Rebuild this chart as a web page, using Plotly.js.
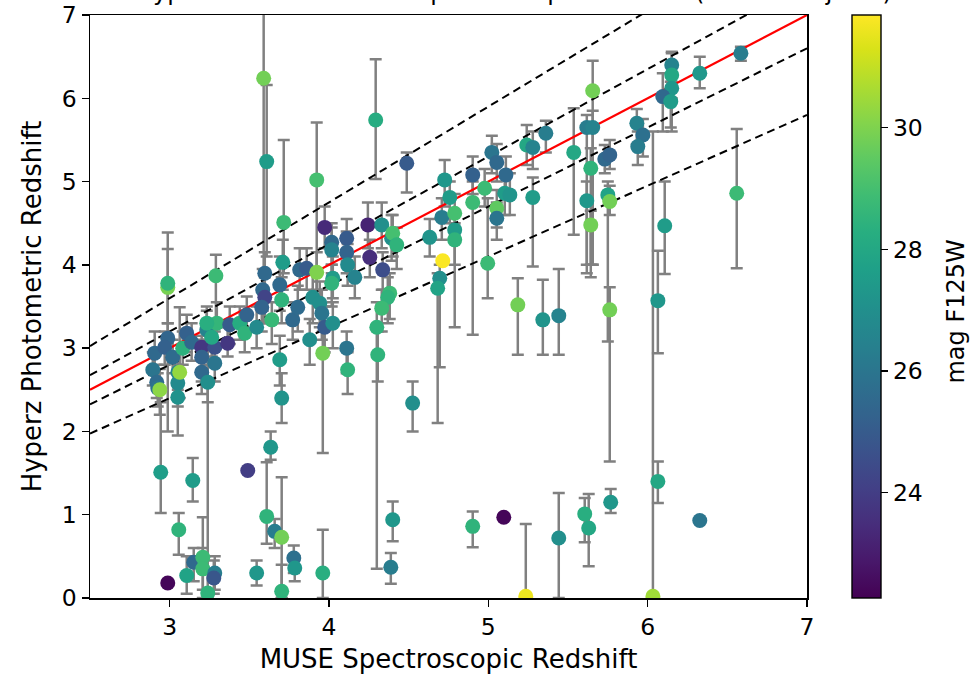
<!DOCTYPE html>
<html>
<head>
<meta charset="utf-8">
<script src="https://cdn.plot.ly/plotly-3.0.1.min.js"></script>
<style>html,body{margin:0;padding:0;background:#fff;}#chart{width:971px;height:681px;}</style>
</head>
<body>
<div id="chart"></div>
<script>
// MUSE spectroscopic redshift
const zSpec = [2.906,2.894,2.919,2.925,2.938,2.944,2.988,2.988,2.988,2.969,3.019,3.051,3.051,3.051,3.063,3.107,3.082,3.138,3.201,3.201,3.201,3.233,3.239,3.283,3.283,3.296,3.233,3.264,3.364,3.377,3.44,3.471,3.484,3.546,3.584,3.597,3.597,3.578,3.641,3.691,3.703,3.71,3.716,3.691,3.703,3.772,3.804,3.816,3.86,3.879,3.898,3.923,3.942,3.955,3.973,3.961,3.973,4.017,4.017,4.024,4.017,4.024,4.111,4.111,4.117,4.111,4.117,4.162,4.244,4.256,4.331,4.337,4.393,4.4,4.425,4.381,4.369,4.331,4.3,4.306,4.525,4.632,4.708,4.789,4.789,4.789,4.714,4.695,4.682,4.726,4.758,4.902,4.977,5.053,5.053,5.103,5.135,5.279,4.996,5.185,5.342,5.442,4.902,5.022,5.053,5.11,5.241,5.279,5.361,4.488,4.293,3.923,3.59,3.609,5.618,5.75,5.762,5.643,6.107,6.559,5.762,6.064,5.442,5.605,5.63,5.768,6.064,6.327,6.033,6.585,6.327,6.151,6.151,6.151,6.095,6.145,5.932,5.97,5.938,5.655,5.618,5.655,5.536,5.643,5.731,5.762,5.235,5.097,4.902,4.4,4.388,3.961,3.145,3.49,3.057,2.988,3.107,3.151,3.208,3.208,3.283,3.277,3.239,3.634,3.609,3.659,3.703,3.703,3.779,3.785,3.546,3.29];
// Hyperz photometric redshift
const zPhot = [2.94,2.74,2.59,2.52,2.5,1.51,3.73,3.78,3.12,3.01,2.89,2.71,2.58,2.41,2.71,3.18,3.0,3.07,3.01,2.89,2.71,3.22,2.59,2.82,3.01,3.3,3.3,3.13,3.06,3.28,3.3,3.18,3.4,3.25,3.7,3.61,3.9,3.49,3.34,3.76,3.58,4.03,4.51,2.86,2.4,3.34,3.49,3.94,3.96,3.1,3.61,3.91,3.54,3.42,3.25,2.94,4.45,4.27,4.18,3.84,3.78,3.3,4.32,4.15,4.0,3.0,2.74,3.85,4.48,4.09,4.48,3.94,4.32,4.38,4.24,3.66,3.61,3.48,3.25,2.92,2.34,4.33,4.57,4.62,4.42,4.3,4.05,3.84,3.72,5.02,4.81,4.75,4.92,4.68,4.56,4.86,4.84,4.81,4.02,3.52,3.34,3.39,5.08,5.35,5.23,5.08,5.44,5.41,5.58,5.22,5.74,5.02,6.24,5.24,4.77,4.84,4.76,4.48,4.47,4.86,3.46,3.57,0.72,1.01,0.84,1.15,1.4,0.93,0.02,6.54,6.3,6.4,6.28,6.12,6.02,5.96,5.7,5.56,5.42,6.09,5.65,5.65,5.35,5.16,5.27,5.32,0.02,0.97,0.86,0.94,0.37,0.3,1.41,1.53,0.82,0.18,0.27,0.43,0.49,0.35,0.3,0.24,0.06,1.81,0.98,0.8,0.73,0.08,0.48,0.36,0.3,3.87];
// lower and upper bounds of the photometric redshift
const zLow = [2.72,2.55,2.4,2.3,2.2,1.02,2.0,3.3,2.95,2.8,2.7,2.5,2.3,1.95,2.4,2.95,2.8,2.85,2.85,2.6,2.45,3.0,2.35,2.6,2.8,3.05,3.1,2.9,2.9,3.05,3.1,2.95,3.2,3.0,3.45,3.3,3.6,3.2,3.05,3.45,3.3,3.7,3.9,2.55,2.1,3.1,3.2,3.7,3.7,2.8,3.3,3.65,3.25,3.1,2.95,1.74,4.2,4.0,3.9,3.6,3.5,3.0,4.05,3.9,3.75,2.7,2.45,3.6,4.2,3.85,4.2,3.7,4.05,4.1,3.95,3.35,3.3,3.2,0.35,2.6,2.0,4.1,4.3,4.35,4.0,3.25,4.05,2.77,2.1,4.7,4.5,3.16,4.7,4.45,4.3,4.6,4.6,3.98,3.6,2.92,2.92,2.92,4.85,5.1,5.0,4.85,5.2,5.15,5.35,4.87,5.03,3.7,3.3,4.1,4.0,3.08,4.6,3.85,3.89,3.96,1.64,2.94,0.0,0.67,0.38,1.02,1.14,0.93,0.0,6.45,6.12,6.2,6.0,5.6,5.6,5.65,5.45,5.3,5.2,4.0,3.9,4.0,4.36,4.0,5.1,5.15,0.0,0.97,0.61,0.68,0.17,0.0,1.16,1.53,0.52,0.18,0.05,0.2,0.0,0.1,0.1,0.05,0.0,1.66,0.65,0.6,0.0,0.0,0.3,0.2,0.15,3.0];
const zHigh = [3.2,2.95,2.8,2.7,2.75,2.35,4.39,4.19,3.3,3.2,3.1,2.95,2.8,2.62,3.49,3.4,3.2,3.3,3.15,3.1,2.95,3.45,2.8,3.05,3.2,3.55,3.5,3.35,3.25,3.5,3.5,3.4,3.62,3.5,3.95,3.85,4.15,3.7,3.55,4.1,3.85,4.3,5.5,3.15,2.7,3.55,3.75,4.2,4.2,3.35,3.9,4.15,3.8,3.7,3.5,3.2,4.7,4.5,4.45,4.1,4.0,3.55,4.55,4.4,4.25,3.2,2.95,4.1,4.75,4.3,4.75,4.15,4.6,4.6,4.45,3.9,3.85,3.7,3.55,3.2,2.6,4.55,4.8,4.85,4.6,4.5,4.05,4.0,3.9,5.26,5.0,5.0,5.15,4.9,4.75,5.05,5.1,5.05,4.8,3.84,3.82,3.95,5.3,5.55,5.45,5.3,5.68,5.6,5.73,5.35,6.47,5.71,7.5,6.16,5.0,5.0,4.95,4.65,5.0,5.63,3.73,4.17,1.26,1.2,1.25,1.31,1.64,0.93,5.6,6.62,6.5,6.56,6.54,6.4,6.3,6.2,5.87,5.75,5.6,6.45,5.8,5.85,5.88,5.4,5.44,5.5,0.89,0.97,1.04,1.16,0.54,0.82,1.68,1.53,1.02,0.18,0.5,0.6,0.97,0.6,0.5,0.45,3.2,2.0,1.63,0.95,1.45,0.4,0.63,0.5,0.45,4.12];
// F125W magnitude (colour)
const magF125W = [25.5,26.0,25.6,25.9,30.2,27.6,29.9,28.5,25.4,25.2,25.6,26.6,26.8,27.1,30.3,25.2,28.4,25.5,23.8,25.3,25.5,26.5,27.0,26.0,24.6,28.6,28.3,28.0,23.8,25.0,28.2,28.5,25.3,26.8,25.5,24.2,25.5,25.3,28.7,25.5,28.5,27.5,28.8,27.5,27.2,25.5,25.6,25.5,25.0,27.0,27.0,30.0,27.0,26.0,25.0,29.8,23.4,25.5,26.5,27.5,28.5,27.0,25.0,25.3,26.8,26.0,28.5,26.5,23.2,23.5,27.0,24.5,27.0,29.0,28.5,28.8,28.5,28.8,28.5,28.5,27.0,27.2,26.3,29.0,27.5,28.5,31.8,27.0,27.8,27.3,27.5,28.8,28.8,29.5,26.0,27.5,27.2,27.5,28.8,29.8,27.2,26.5,25.2,26.0,25.5,25.5,28.0,26.5,26.3,25.0,28.2,29.0,29.8,27.5,27.3,27.8,29.8,29.8,27.5,28.8,29.8,27.3,27.0,28.3,28.0,27.3,28.0,26.0,30.5,26.3,27.3,26.5,28.0,27.3,25.5,27.5,26.5,25.8,26.3,29.8,26.3,26.5,28.0,28.5,25.5,25.3,31.6,22.4,28.5,27.3,26.3,28.3,27.5,24.0,28.5,22.4,27.8,25.5,28.8,28.8,26.3,24.8,28.5,27.3,28.5,26.3,29.8,28.5,25.8,27.3,27.3,28.8];

const xAxisTicks = [3,4,5,6,7];
const yAxisTicks = [0,1,2,3,4,5,6,7];
const cbarTicks = [24,26,28,30];
const lineX = [2.5, 7];
const scatterOffsets = [0.15, 0.05, -0.05, -0.15];   // z_phot = z_spec ± k(1+z_spec)

const errMinus = zPhot.map((v,i)=>v - zLow[i]);
const errPlus = zPhot.map((v,i)=>zHigh[i] - v);

const FONT = 'DejaVu Sans';
const traces = [];
traces.push({
  type:'scatter', mode:'markers', x:zSpec, y:zPhot,
  marker:{size:15, opacity:0},
  error_y:{type:'data', symmetric:false, array:errPlus, arrayminus:errMinus, color:'#808080', thickness:2.5, width:6},
  hoverinfo:'skip', showlegend:false
});
scatterOffsets.forEach(k=>{
  traces.push({type:'scatter', mode:'lines', x:lineX, y:lineX.map(v=>v + k*(1+v)),
    line:{color:'#000', width:2, dash:'8px,5px'}, showlegend:false, hoverinfo:'skip'});
});
traces.push({type:'scatter', mode:'lines', x:lineX, y:lineX, line:{color:'#ff0000', width:2.2}, showlegend:false, hoverinfo:'skip'});
traces.push({
  type:'scatter', mode:'markers', x:zSpec, y:zPhot,
  marker:{size:15, color:magF125W, colorscale:'Viridis', cmin:22.27, cmax:31.85, line:{width:0},
    colorbar:{x:1.0628, xanchor:'left', xref:'paper', xpad:0, ypad:0, y:0, yanchor:'bottom', len:1, lenmode:'fraction', thickness:29, thicknessmode:'pixels',
      outlinewidth:1.4, outlinecolor:'#000', tickvals:cbarTicks, ticks:'outside', ticklen:7, tickwidth:1.4, tickcolor:'#000',
      tickfont:{family:FONT, size:23.5, color:'#000'}, title:{text:''}}},
  showlegend:false
});

const layout = {
  width:971, height:681,
  margin:{l:90, r:164, t:15, b:83, pad:0},
  paper_bgcolor:'#fff', plot_bgcolor:'#fff',
  font:{family:FONT, size:23.5, color:'#000'},
  xaxis:{range:[2.5,7], tickvals:xAxisTicks, ticks:'outside', ticklen:7, tickwidth:1.4, tickcolor:'#000',
    tickfont:{size:23.5},
    showline:true, linecolor:'#000', linewidth:1.5, mirror:true, showgrid:false, zeroline:false,
    title:{text:'MUSE Spectroscopic Redshift', font:{size:26}, standoff:10}},
  yaxis:{range:[0,7], tickvals:yAxisTicks, ticks:'outside', ticklen:7, tickwidth:1.4, tickcolor:'#000',
    tickfont:{size:23.5},
    showline:true, linecolor:'#000', linewidth:1.5, mirror:true, showgrid:false, zeroline:false,
    title:{text:'Hyperz Photometric Redshift', font:{size:26}, standoff:12}},
  annotations:[
    {xref:'paper', yref:'paper', x:1.1213, y:1, yanchor:'bottom', xanchor:'right', yshift:7, showarrow:false,
     text:'Hyperz Photometric vs Spectroscopic Redshift (N=176 objects)', font:{family:FONT, size:24, color:'#000'}},
    {xref:'paper', yref:'paper', x:1.2075, y:0.491, xanchor:'center', yanchor:'middle', textangle:-90, showarrow:false,
     text:'mag F125W', font:{family:FONT, size:24, color:'#000'}}
  ]
};
Plotly.newPlot('chart', traces, layout, {displayModeBar:false, staticPlot:true});
</script>
</body>
</html>
